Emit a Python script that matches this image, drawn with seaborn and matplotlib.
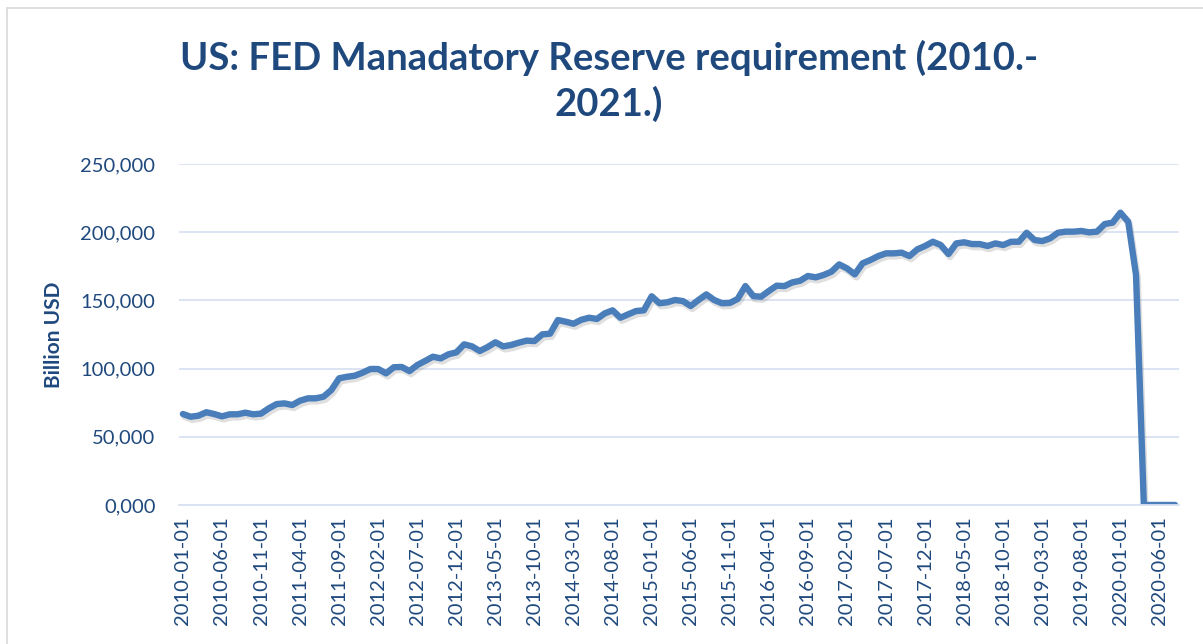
import matplotlib
matplotlib.use("Agg")
import matplotlib.pyplot as plt
import matplotlib.patheffects as pe
from matplotlib.ticker import FixedLocator, FuncFormatter
import seaborn as sns
import pandas as pd

# ---- data (billion USD, monthly) ----
dates = list(pd.date_range("2010-01-01", periods=128, freq="MS").strftime("%Y-%m-%d"))
reserve = [
    66.7, 64.7, 65.5, 68.0, 66.7, 65.0, 66.5, 66.5, 67.7, 66.5,
    67.0, 70.9, 74.0, 74.5, 73.3, 76.5, 78.2, 78.2, 79.4, 84.3,
    92.9, 94.0, 94.8, 97.0, 99.7, 99.7, 96.5, 101.0, 101.2, 98.2,
    102.6, 105.6, 108.7, 107.5, 110.5, 111.9, 117.8, 116.3, 112.9, 115.8,
    119.3, 116.3, 117.3, 119.0, 120.5, 120.2, 125.1, 125.6, 135.6, 134.4,
    132.9, 135.8, 137.3, 136.4, 140.5, 142.7, 137.3, 139.8, 142.2, 142.7,
    153.0, 147.9, 148.6, 150.3, 149.5, 145.9, 150.3, 154.4, 150.3, 147.9,
    148.1, 151.0, 160.5, 153.2, 152.7, 156.9, 160.8, 160.5, 163.2, 164.4,
    167.9, 166.9, 168.6, 171.0, 176.4, 173.5, 169.1, 177.2, 179.6, 182.5,
    184.5, 184.5, 185.0, 182.5, 187.4, 189.9, 193.0, 190.6, 184.0, 191.8,
    192.6, 191.3, 191.3, 189.9, 191.8, 190.6, 193.0, 193.0, 199.6, 194.3,
    193.5, 195.5, 199.6, 200.4, 200.4, 200.9, 199.9, 200.4, 206.0, 207.0,
    214.3, 207.7, 168.6, 0.0, 0.0, 0.0, 0.0, 0.0,
]
y_ticks = [0, 50, 100, 150, 200, 250]
title = "US: FED Manadatory Reserve requirement (2010.-\n2021.)"
y_label = "Billion USD"

df = pd.DataFrame({"date": dates, "value": reserve})

sns.set_theme(style="white")
plt.rcParams["font.family"] = ["Lato", "DejaVu Sans"]

TEXT = "#1F497D"
GRID = "#D9E2F3"
LINE = "#4A7EBB"

fig = plt.figure(figsize=(12.03, 6.44), dpi=100)
ax = fig.add_axes([179 / 1203, 1 - 505 / 644, 1000 / 1203, 341 / 644])

sns.lineplot(data=df, x="date", y="value", ax=ax, color=LINE, linewidth=4.6,
             sort=False, solid_joinstyle="round", solid_capstyle="round")
ax.lines[0].set_path_effects([
    pe.SimpleLineShadow(offset=(1.2, -2.2), shadow_color="#808080", alpha=0.25),
    pe.Normal(),
])

n = len(dates)
ax.set_xlim(-0.5, n - 0.5)
ax.set_ylim(0, 250)

ax.yaxis.set_major_locator(FixedLocator(y_ticks))
ax.yaxis.set_major_formatter(FuncFormatter(lambda v, p: f"{v:.3f}".replace(".", ",")))
ax.grid(axis="y", color=GRID, linewidth=1.3)
ax.set_axisbelow(True)

label_pos = list(range(0, n, 5))
ax.set_xticks(label_pos)
ax.set_xticklabels([dates[i] for i in label_pos], rotation=90)
ax.set_xticks([i - 0.5 for i in range(0, n + 1, 5)], minor=True)

ax.tick_params(axis="x", which="major", length=0, pad=8, labelsize=14.5, labelcolor=TEXT)
ax.tick_params(axis="x", which="minor", length=7, width=1.3, color=GRID, direction="out")
ax.tick_params(axis="y", length=0, pad=17, labelsize=14.5, labelcolor=TEXT)

for s in ["top", "right", "left"]:
    ax.spines[s].set_visible(False)
ax.spines["bottom"].set_color(GRID)
ax.spines["bottom"].set_linewidth(1.3)

ax.set_xlabel("")
ax.set_ylabel(y_label, fontsize=15, fontweight="bold", color=TEXT, labelpad=12)

fig.text(609 / 1203, 1 - 81 / 644, title, ha="center", va="center",
         fontsize=27.5, fontweight="bold", color=TEXT, linespacing=1.3)

# chart border
fig.patches.append(plt.Rectangle((7 / 1203, -0.1), 1.2, 1.1 - 8 / 644,
                                 transform=fig.transFigure, fill=False,
                                 edgecolor="#D9D9D9", linewidth=1.2))

fig.savefig("out.png", dpi=100)
